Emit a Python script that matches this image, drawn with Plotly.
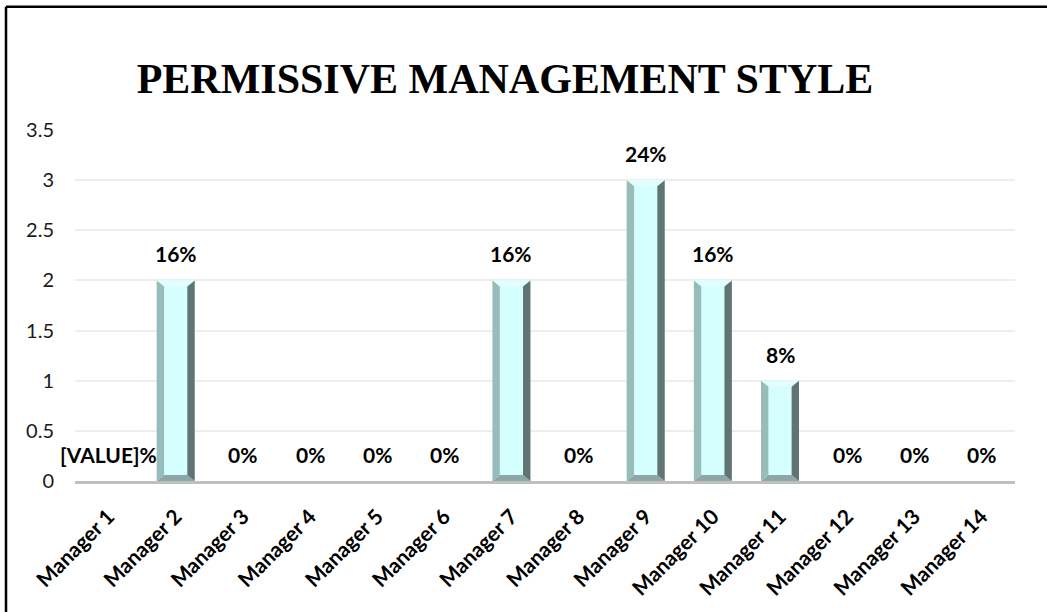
import plotly.graph_objects as go

# Data
managers = [f"Manager {i}" for i in range(1, 15)]
counts = [0, 2, 0, 0, 0, 0, 2, 0, 3, 2, 1, 0, 0, 0]
pct_labels = ["[VALUE]%", "16%", "0%", "0%", "0%", "0%", "16%", "0%",
              "24%", "16%", "8%", "0%", "0%", "0%"]
y_ticks = [0, 0.5, 1, 1.5, 2, 2.5, 3, 3.5]
y_tick_text = ["0", "0.5", "1", "1.5", "2", "2.5", "3", "3.5"]

W, H = 1047, 612
ML, MR, MT, MB = 75, 32, 130, 129
BAR_W = 0.566          # bar width in category units
BX, BY = 0.11, 0.06    # bevel depth (category units / value units)

FACE = "#D5FFFF"
LEFT = "#97BCBA"
RIGHT = "#5F7473"
BOTTOM = "#8CA7A5"
TOP = "#E2FFFF"

xs = list(range(len(managers)))

fig = go.Figure()

# bar faces
fig.add_trace(go.Bar(
    x=xs, y=counts, width=BAR_W, marker=dict(color=FACE, line=dict(width=0)),
    hoverinfo="skip", showlegend=False,
))


def bevel(side):
    px, py = [], []
    for i, v in zip(xs, counts):
        if v <= 0:
            continue
        x0, x1 = i - BAR_W / 2, i + BAR_W / 2
        if side == "left":
            pts = [(x0, 0), (x0, v), (x0 + BX, v - BY), (x0 + BX, BY)]
        elif side == "right":
            pts = [(x1, 0), (x1, v), (x1 - BX, v - BY), (x1 - BX, BY)]
        elif side == "bottom":
            pts = [(x0, 0), (x1, 0), (x1 - BX, BY), (x0 + BX, BY)]
        else:
            pts = [(x0, v), (x1, v), (x1 - BX, v - BY), (x0 + BX, v - BY)]
        pts.append(pts[0])
        px += [p[0] for p in pts] + [None]
        py += [p[1] for p in pts] + [None]
    return px, py


for side, col in [("top", TOP), ("bottom", BOTTOM), ("left", LEFT), ("right", RIGHT)]:
    bx_, by_ = bevel(side)
    fig.add_trace(go.Scatter(
        x=bx_, y=by_, mode="lines", fill="toself", fillcolor=col,
        line=dict(width=0, color=col), hoverinfo="skip", showlegend=False,
    ))

# value labels
for i, v, t in zip(xs, counts, pct_labels):
    fig.add_annotation(
        x=i, y=v, text=f"<b>{t}</b>", showarrow=False,
        xanchor="center", yanchor="bottom", yshift=12,
        font=dict(family="Lato, Carlito, sans-serif", size=21, color="#000000"),
    )

# outer frame (top and left edges of the chart box)
def px_x(p):
    return (p - ML) / (W - ML - MR)


def px_y(p):
    return (H - MB - p) / (H - MT - MB)


fig.add_shape(type="line", xref="paper", yref="paper",
              x0=px_x(6), x1=px_x(W + 5), y0=px_y(6), y1=px_y(6),
              line=dict(color="#000000", width=2.5))
fig.add_shape(type="line", xref="paper", yref="paper",
              x0=px_x(6), x1=px_x(6), y0=px_y(6), y1=px_y(H + 5),
              line=dict(color="#000000", width=2.5))

fig.update_layout(
    width=W, height=H,
    margin=dict(l=ML, r=MR, t=MT, b=MB),
    paper_bgcolor="white", plot_bgcolor="white",
    title=dict(
        text="<b>PERMISSIVE MANAGEMENT STYLE</b>",
        x=505 / W, xanchor="center", xref="container",
        y=1 - 78 / H, yanchor="middle", yref="container",
        font=dict(family="Liberation Serif, Times New Roman, serif", size=42, color="#000000"),
    ),
    xaxis=dict(
        range=[-0.5, len(managers) - 0.5],
        tickvals=xs, ticktext=[f"<b>{m}</b>" for m in managers],
        tickangle=-45, showgrid=False, zeroline=False,
        showline=True, linecolor="#BFBFBF", linewidth=3,
        ticks="", ticklen=0, ticklabelstandoff=12,
        tickfont=dict(family="Lato, Carlito, sans-serif", size=21, color="#000000"),
    ),
    yaxis=dict(
        range=[0, 3.5], tickvals=y_ticks, ticktext=y_tick_text,
        showgrid=True, gridcolor="#EDEDED", gridwidth=1.5, zeroline=False,
        ticks="", ticklabelstandoff=20,
        tickfont=dict(family="Lato, Carlito, sans-serif", size=20, color="#1a1a1a"),
    ),
    bargap=0.43,
)

fig.write_html("out.html")
